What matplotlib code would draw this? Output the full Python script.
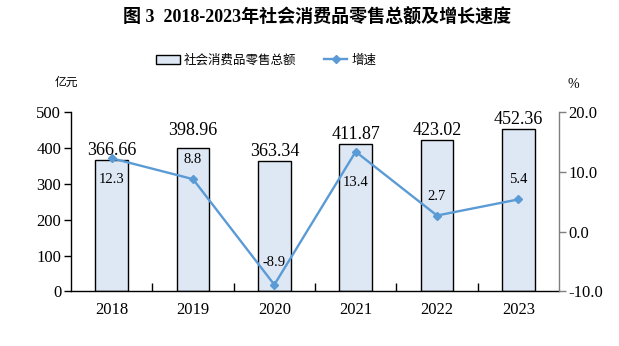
import matplotlib
matplotlib.use("Agg")
import matplotlib.pyplot as plt
from matplotlib.patches import Patch
from matplotlib.lines import Line2D

years = ["2018", "2019", "2020", "2021", "2022", "2023"]
sales = [366.66, 398.96, 363.34, 411.87, 423.02, 452.36]
growth = [12.3, 8.8, -8.9, 13.4, 2.7, 5.4]
left_ticks = [0, 100, 200, 300, 400, 500]
right_ticks = [-10.0, 0.0, 10.0, 20.0]

# label offsets in points (style only)
bar_label_off = [7, 13, 7, 7, 7, 7]
line_label_off = [-15, 14, 16, -22, 14, 14]

SERIF = ["Liberation Serif", "Noto Sans CJK SC"]
CJK = ["Noto Sans CJK SC", "DejaVu Sans"]

fig = plt.figure(figsize=(6.19, 3.46), dpi=100)
ax = fig.add_axes([71/619, 1-291.3/346, (559-71)/619, (291.3-112.3)/346])
ax2 = ax.twinx()

x = list(range(len(years)))
bar_color = "#DEE8F4"
line_color = "#5B9BD5"

ax.bar(x, sales, width=0.40, color=bar_color, edgecolor="black", linewidth=1.0, zorder=2)
ax.set_xlim(-0.5, len(years) - 0.5)
ax.set_ylim(0, 500)
ax.set_yticks(left_ticks)
ax.set_yticklabels([str(t) for t in left_ticks], family=SERIF, fontsize=12)
ax.set_xticks(x)
ax.set_xticklabels(years, family=SERIF, fontsize=12)
ax.tick_params(axis="x", length=0, pad=8)
ax.tick_params(axis="y", length=5, width=1, direction="out", pad=2)
# minor ticks at category boundaries, pointing inward
ax.set_xticks([i + 0.5 for i in range(len(years) - 1)], minor=True)
ax.tick_params(axis="x", which="minor", direction="in", length=6, width=1)
for s in ["top"]:
    ax.spines[s].set_visible(False)
    ax2.spines[s].set_visible(False)
ax.spines["left"].set_linewidth(1.0)
ax.spines["bottom"].set_linewidth(1.0)
ax.spines["right"].set_visible(False)
ax2.spines["left"].set_visible(False)
ax2.spines["bottom"].set_visible(False)
ax2.spines["right"].set_color("#7F7F7F")
ax2.spines["right"].set_linewidth(1.0)

for i, v in enumerate(sales):
    ax.annotate(f"{v:.2f}", (i, v), xytext=(0, bar_label_off[i]), textcoords="offset points",
                ha="center", va="center", family=SERIF, fontsize=13, zorder=5)

ax2.plot(x, growth, color=line_color, linewidth=1.7, marker="D", markersize=4.5, zorder=4)
ax2.set_ylim(-10, 20)
ax2.set_yticks(right_ticks)
ax2.set_yticklabels([f"{t:.1f}" for t in right_ticks], family=SERIF, fontsize=12)
ax2.tick_params(axis="y", length=5, width=1, direction="out", color="#7F7F7F", pad=2)

for i, v in enumerate(growth):
    ax2.annotate(f"{v:.1f}", (i, v), xytext=(0, line_label_off[i]), textcoords="offset points",
                 ha="center", va="center", family=SERIF, fontsize=10.5, zorder=5)

fig.text(0.512, 1-18/346, "图 3  2018-2023年社会消费品零售总额及增长速度", ha="center", va="center",
         family=SERIF, fontsize=13, fontweight="bold")
fig.text(55/619, 1-82/346, "亿元", ha="left", va="center", family=CJK, fontsize=8.5)
fig.text(568/619, 1-85/346, "%", ha="left", va="center", family=SERIF, fontsize=10)

handles = [Patch(facecolor=bar_color, edgecolor="black", linewidth=1.0),
           Line2D([0], [0], color=line_color, linewidth=1.7, marker="D", markersize=4)]
fig.legend(handles, ["社会消费品零售总额", "增速"], loc="center", bbox_to_anchor=(0.43, 1-60/346),
           ncol=2, frameon=False, prop={"family": CJK, "size": 9}, handlelength=1.9,
           handleheight=0.7, columnspacing=2.2, handletextpad=0.3)

fig.savefig("out.png", dpi=100)
